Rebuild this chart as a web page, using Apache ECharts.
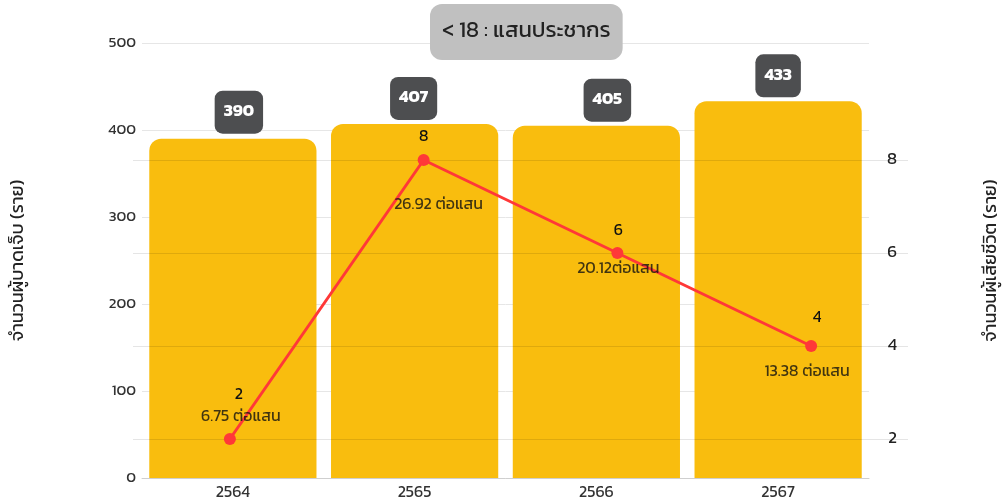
<!DOCTYPE html>
<html>
<head>
<meta charset="utf-8">
<script src="https://cdn.jsdelivr.net/npm/echarts@6/dist/echarts.min.js"></script>
<style>
html,body{margin:0;padding:0;background:#fff;}
#c{width:1007px;height:504px;}
</style>
</head>
<body>
<div id="c"></div>
<script>
const categories = ['2564', '2565', '2566', '2567'];
const injuries = [390, 407, 405, 433];
const deaths = [2, 8, 6, 4];
const rateLabels = ['6.75 ต่อแสน', '26.92 ต่อแสน', '20.12ต่อแสน', '13.38 ต่อแสน'];
const rightTicks = [2, 4, 6, 8];
const titleText = '< 18 : แสนประชากร';
const leftAxisName = 'จำนวนผู้บาดเจ็บ (ราย)';
const rightAxisName = 'จำนวนผู้เสียชีวิต (ราย)';

// label placement (style only)
const barLabelOffsets = [[6, -1], [-1, 0], [11, 0], [0, 0]];
const valueLabelOffsets = [[9, -44], [0, -23], [1, -22], [6, -28]];
const rateLabelOffsets = [[11, -22], [15, 45], [1, 16], [-4, 26]];

const FONT = 'Kanit, Prompt, "Noto Sans Thai", "Noto Sans", sans-serif';

const chart = echarts.init(document.getElementById('c'), null, {renderer: 'canvas'});
const option = {
  backgroundColor: '#ffffff',
  textStyle: {fontFamily: FONT},
  title: {
    text: titleText,
    left: 430,
    top: 4,
    backgroundColor: '#c0c0c0',
    borderRadius: 12,
    padding: [17, 12],
    textStyle: {fontSize: 22, fontWeight: 'normal', color: '#222', fontFamily: FONT}
  },
  grid: [
    {left: 142, right: 138, top: 43, bottom: 26, outerBoundsMode: 'none', containLabel: false},
    {left: 133, right: 99, top: 43, bottom: 26, outerBoundsMode: 'none', containLabel: false}
  ],
  xAxis: [
    {
      type: 'category', gridIndex: 0, data: categories,
      axisLine: {show: true, lineStyle: {color: '#cfcfcf', width: 1}},
      axisTick: {show: false},
      axisLabel: {color: '#333', fontSize: 16, margin: 7, fontFamily: FONT}
    },
    {
      type: 'category', gridIndex: 1, data: categories, show: false
    }
  ],
  yAxis: [
    {
      type: 'value', gridIndex: 0, min: 0, max: 500, interval: 100,
      name: leftAxisName, nameLocation: 'middle', nameRotate: 90, nameGap: 114,
      nameTextStyle: {fontSize: 18, color: '#222', fontFamily: FONT},
      axisLine: {show: false}, axisTick: {show: false},
      axisLabel: {color: '#333', fontSize: 15, margin: 6, fontFamily: FONT},
      splitLine: {show: true, lineStyle: {color: '#e6e6e6', width: 1}}
    },
    {
      type: 'value', gridIndex: 1, position: 'right', min: 1.161, max: 10.516,
      z: 3,
      name: rightAxisName, nameLocation: 'middle', nameRotate: 90, nameGap: 75,
      nameTextStyle: {fontSize: 18, color: '#222', fontFamily: FONT},
      axisLine: {show: false},
      axisTick: {show: false, customValues: rightTicks},
      axisLabel: {inside: true, margin: 11, color: '#222', fontSize: 17, customValues: rightTicks, fontFamily: FONT},
      splitLine: {show: true, lineStyle: {color: 'rgba(0,0,0,0.1)', width: 1}}
    }
  ],
  series: [
    {
      type: 'bar', xAxisIndex: 0, yAxisIndex: 0,
      data: injuries.map((v, i) => ({
        value: v,
        label: {offset: barLabelOffsets[i]}
      })),
      barCategoryGap: '8%',
      itemStyle: {color: '#F9BD0E', borderRadius: [12, 12, 0, 0]},
      label: {
        show: true, position: 'top', distance: 4,
        backgroundColor: '#4d4e50', borderRadius: 8, padding: [13, 9],
        color: '#fff', fontSize: 17, fontWeight: 'bold', fontFamily: FONT
      }
    },
    {
      type: 'line', xAxisIndex: 1, yAxisIndex: 1,
      data: deaths.map((v, i) => ({
        value: v,
        label: {offset: valueLabelOffsets[i]}
      })),
      symbol: 'circle', symbolSize: 12,
      lineStyle: {color: '#FF3838', width: 3},
      itemStyle: {color: '#FF3838'},
      z: 5,
      label: {show: true, position: 'inside', color: '#111', fontSize: 16, fontFamily: FONT}
    },
    {
      type: 'scatter', xAxisIndex: 1, yAxisIndex: 1,
      data: deaths.map((v, i) => ({
        value: v,
        label: {offset: rateLabelOffsets[i]}
      })),
      symbolSize: 1,
      itemStyle: {color: 'rgba(0,0,0,0)'},
      z: 6,
      label: {
        show: true, position: 'inside', color: '#111', fontSize: 16, fontFamily: FONT,
        formatter: (p) => rateLabels[p.dataIndex]
      }
    }
  ]
};
chart.setOption(option);
</script>
</body>
</html>
